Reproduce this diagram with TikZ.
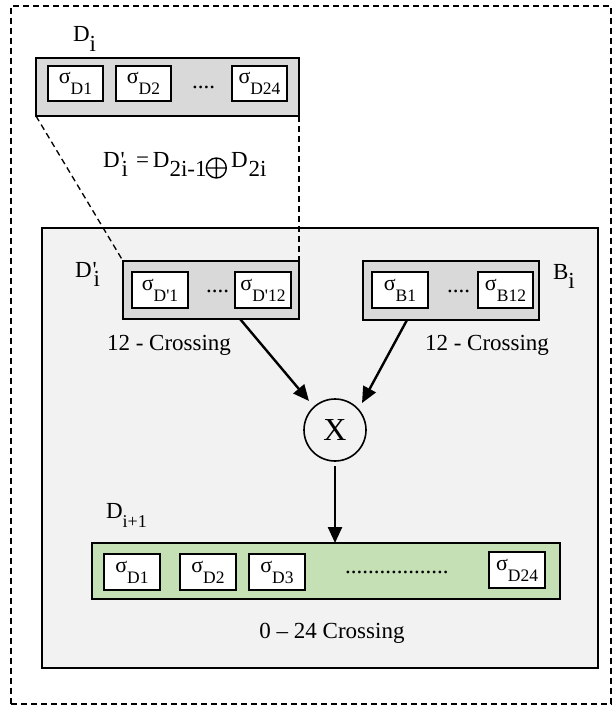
\documentclass[tikz,border=0pt]{standalone}
\usepackage{fontspec}
\setmainfont{Liberation Serif}
\newfontfamily\rawfont{Liberation Serif}[Ligatures=TeXOff]
\usetikzlibrary{arrows.meta,calc}
\definecolor{grpgray}{HTML}{D9D9D9}
\definecolor{biggray}{HTML}{F2F2F2}
\definecolor{grpgreen}{HTML}{C5E0B4}
\newcommand{\lo}[1]{\raisebox{-0.4em}{#1}}
\newcommand{\pr}{{\rawfont\char"27}}
\newcommand{\sg}[1]{{\fontsize{22}{22}\selectfont σ}\raisebox{-11pt}{\fontsize{17.5}{17.5}\selectfont #1}}
\newcommand{\xor}{\tikz[baseline=0pt,x=1pt,y=1pt]{\draw[line width=1.4pt] (0,-1) circle (10) (-10,-1) -- (10,-1) (0,-11) -- (0,9);}}
\tikzset{
  outerbox/.style={draw, dash pattern=on 6pt off 4pt, line width=1.3pt, inner sep=0, outer sep=0},
  bigbox/.style={draw, fill=biggray, line width=2pt, inner sep=0, outer sep=0},
  grp/.style={draw, fill=grpgray, line width=2pt, inner sep=0, outer sep=0, minimum height=58pt},
  grn/.style={draw, fill=grpgreen, line width=2pt, inner sep=0, outer sep=0, minimum height=56pt},
  cell/.style={draw, fill=white, line width=1.8pt, inner sep=0, outer sep=0, minimum width=56pt, minimum height=36pt},
  lbl/.style={font=\fontsize{23}{23}\selectfont, inner sep=0, outer sep=0, anchor=base west},
  dashline/.style={dash pattern=on 6pt off 4pt, line width=1.3pt},
  arr/.style={-{Triangle[length=16pt,width=14pt]}, line width=2.4pt},
  mult/.style={draw, circle, line width=1.6pt, minimum size=62pt, inner sep=0, outer sep=0, font=\fontsize{32}{32}\selectfont}
}
\begin{document}
\begin{tikzpicture}[x=1pt,y=-1pt]
\useasboundingbox (0,0) rectangle (615,706);
\fill[white] (0,0) rectangle (615,706);
% outer dashed frame
\node[outerbox, minimum width=600pt, minimum height=698pt] (outer) at (311,355) {};
% big inner box
\node[bigbox, minimum width=556pt, minimum height=440pt] (big) at (320,448) {};
% D_i group
\node[grp, minimum width=263pt] (di) at (167.5,87) {};
\node[cell, minimum width=55pt, minimum height=35pt] (di1) at (75.5,83.5) {\sg{D1}};
\node[cell, minimum width=55pt, minimum height=35pt] (di2) at (143.5,83.5) {\sg{D2}};
\node[cell, minimum width=55pt, minimum height=35pt] (di24) at (259.5,83.5) {\sg{D24}};
\node[lbl] (didots) at (192,89) {....};
\node[lbl] (ldi) at (73,42) {D\lo{i}};
% formula
\node[lbl] (formula) at (103,167) {D\kern1pt\rlap{\pr}\kern1pt\lo{i}\kern8pt=\kern4pt D\lo{2i-1}\kern-1pt\xor\kern4pt D\kern1pt\lo{2i}};
% D'_i group
\node[grp, minimum width=176pt] (dpi) at (211,290) {};
\node[cell] (dp1) at (160,290) {\sg{D\pr1}};
\node[cell] (dp12) at (263,290) {\sg{D\pr12}};
\node[lbl] (dpdots) at (206,292) {....};
\node[lbl] (ldpi) at (75,277) {D\kern1pt\rlap{\pr}\kern1pt\lo{i}};
\node[lbl] (cl) at (107,350) {12 - Crossing};
% B_i group
\node[grp, minimum width=176pt, minimum height=59pt] (b) at (451,290.5) {};
\node[cell] (b1) at (400,290) {\sg{B1}};
\node[cell, minimum width=55pt] (b12) at (505.5,290) {\sg{B12}};
\node[lbl] (bdots) at (447,292) {....};
\node[lbl] (lbi) at (553,279) {B\lo{i}};
\node[lbl] (cr) at (425,350) {12 - Crossing};
% multiplier
\node[mult] (x) at (335,430) {X};
% D_{i+1} group
\node[grn, minimum width=468pt] (green) at (326,571) {};
\node[cell] (g1) at (132,572) {\sg{D1}};
\node[cell] (g2) at (208,572) {\sg{D2}};
\node[cell] (g3) at (277,572) {\sg{D3}};
\node[cell] (g24) at (517,570) {\sg{D24}};
\node[lbl] (gdots) at (345,573) {..................};
\node[lbl] (ldn) at (106,518) {D\lo{\fontsize{18}{18}\selectfont i+1}};
\node[lbl, anchor=base] (cb) at (332,638) {0 – 24 Crossing};
% connectors
\draw[dashline] (di.south west) -- (dpi.north west);
\draw[dashline] (di.south east) -- (dpi.north east);
\draw[arr] ($(dpi.south west)!0.665!(dpi.south east)$) -- ($(x.center)+(-26,-29)$);
\draw[arr] ($(b.south west)!0.25!(b.south east)$) -- ($(x.center)+(27,-27)$);
\draw[arr, shorten <=5pt] (x.south) -- (x.south |- green.north);
\end{tikzpicture}
\end{document}
